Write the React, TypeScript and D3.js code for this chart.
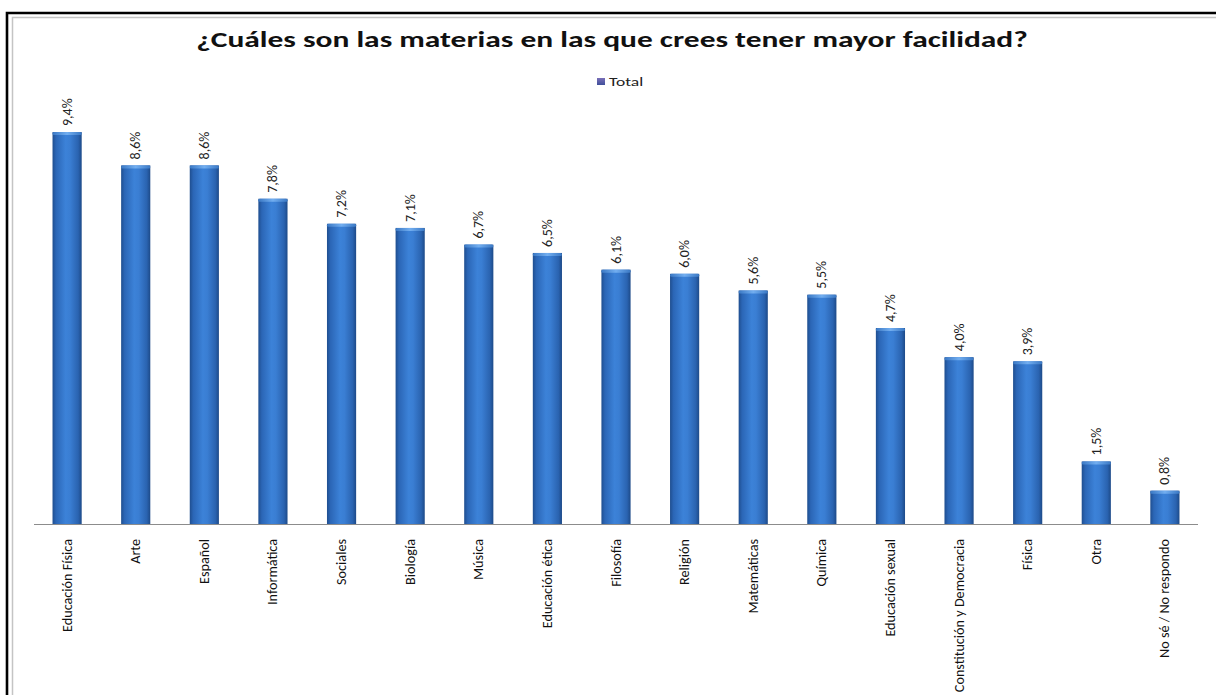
import React from "react";
import * as d3 from "d3";

const categories = [
  "Educación Física", "Arte", "Español", "Informática", "Sociales", "Biología",
  "Música", "Educación ética", "Filosofía", "Religión", "Matemáticas", "Química",
  "Educación sexual", "Constitución y Democracia", "Física", "Otra", "No sé / No respondo",
];
const values = [9.4, 8.6, 8.6, 7.8, 7.2, 7.1, 6.7, 6.5, 6.1, 6.0, 5.6, 5.5, 4.7, 4.0, 3.9, 1.5, 0.8];
const valueLabels = ["9,4%", "8,6%", "8,6%", "7,8%", "7,2%", "7,1%", "6,7%", "6,5%", "6,1%", "6,0%", "5,6%", "5,5%", "4,7%", "4,0%", "3,9%", "1,5%", "0,8%"];
const title = "¿Cuáles son las materias en las que crees tener mayor facilidad?";
const seriesName = "Total";

const W = 1216, H = 695;
const plotLeft = 34, plotRight = 1198, baseY = 524;
const font = "Carlito, Calibri, 'Liberation Sans Narrow', 'Open Sans', sans-serif";

export default function App() {
  const x = d3.scaleBand<string>().domain(categories).range([plotLeft, plotRight]).paddingInner(0.575).paddingOuter(0.27);
  const y = d3.scaleLinear().domain([0, 10]).range([baseY, 107]);
  const bw = x.bandwidth();
  return (
    <svg width={W} height={H} style={{ position: "absolute", left: 0, top: 0, background: "#fff", overflow: "hidden" }}>
      <defs>
        <linearGradient id="barG" x1="0" x2="1" y1="0" y2="0">
          <stop offset="0" stopColor="#1f4e8f" />
          <stop offset="0.12" stopColor="#2b66b6" />
          <stop offset="0.45" stopColor="#3c82d8" />
          <stop offset="0.6" stopColor="#3a7ed3" />
          <stop offset="0.88" stopColor="#2a63b0" />
          <stop offset="1" stopColor="#1d4a88" />
        </linearGradient>
        <linearGradient id="capG" x1="0" x2="1" y1="0" y2="0">
          <stop offset="0" stopColor="#3a78c4" />
          <stop offset="0.5" stopColor="#72aef0" />
          <stop offset="1" stopColor="#3a78c4" />
        </linearGradient>
        <linearGradient id="legG" x1="0" x2="0" y1="0" y2="1">
          <stop offset="0" stopColor="#7a6fb8" />
          <stop offset="1" stopColor="#3f4f9a" />
        </linearGradient>
      </defs>
      <rect x={0} y={0} width={W} height={H} fill="#fff" />
      <path d={`M7,${H} V13 H${W}`} fill="none" stroke="#000" strokeWidth={2.6} />
      <path d={`M12.5,${H} V17.5 H${W}`} fill="none" stroke="#c4c4c4" strokeWidth={1.5} />
      <text transform="translate(612,47) scale(1.43,1)" textAnchor="middle" fontFamily={font} fontWeight={700} fontSize={22} fill="#111">{title}</text>
      <rect x={597} y={78} width={8} height={7} fill="url(#legG)" />
      <text transform="translate(609,86) scale(1.4,1)" fontFamily={font} fontSize={12.5} fill="#222">{seriesName}</text>
      <line x1={plotLeft} x2={plotRight} y1={baseY + 0.5} y2={baseY + 0.5} stroke="#8c8c8c" strokeWidth={1} />
      {categories.map((c, i) => {
        const bx = x(c)!;
        const top = y(values[i]);
        const cx = bx + bw / 2;
        return (
          <g key={c}>
            <rect x={bx} y={top} width={bw} height={baseY - top} fill="url(#barG)" />
            <rect x={bx} y={top} width={bw} height={3} rx={1.5} fill="url(#capG)" />
            <text transform={`translate(${cx + 4.5},${top - 6}) rotate(-90)`} fontFamily={font} fontSize={14} fill="#222">{valueLabels[i]}</text>
            <text transform={`translate(${cx + 4.5},${baseY + 15}) rotate(-90)`} textAnchor="end" fontFamily={font} fontSize={14.2} fill="#111">{c}</text>
          </g>
        );
      })}
    </svg>
  );
}
